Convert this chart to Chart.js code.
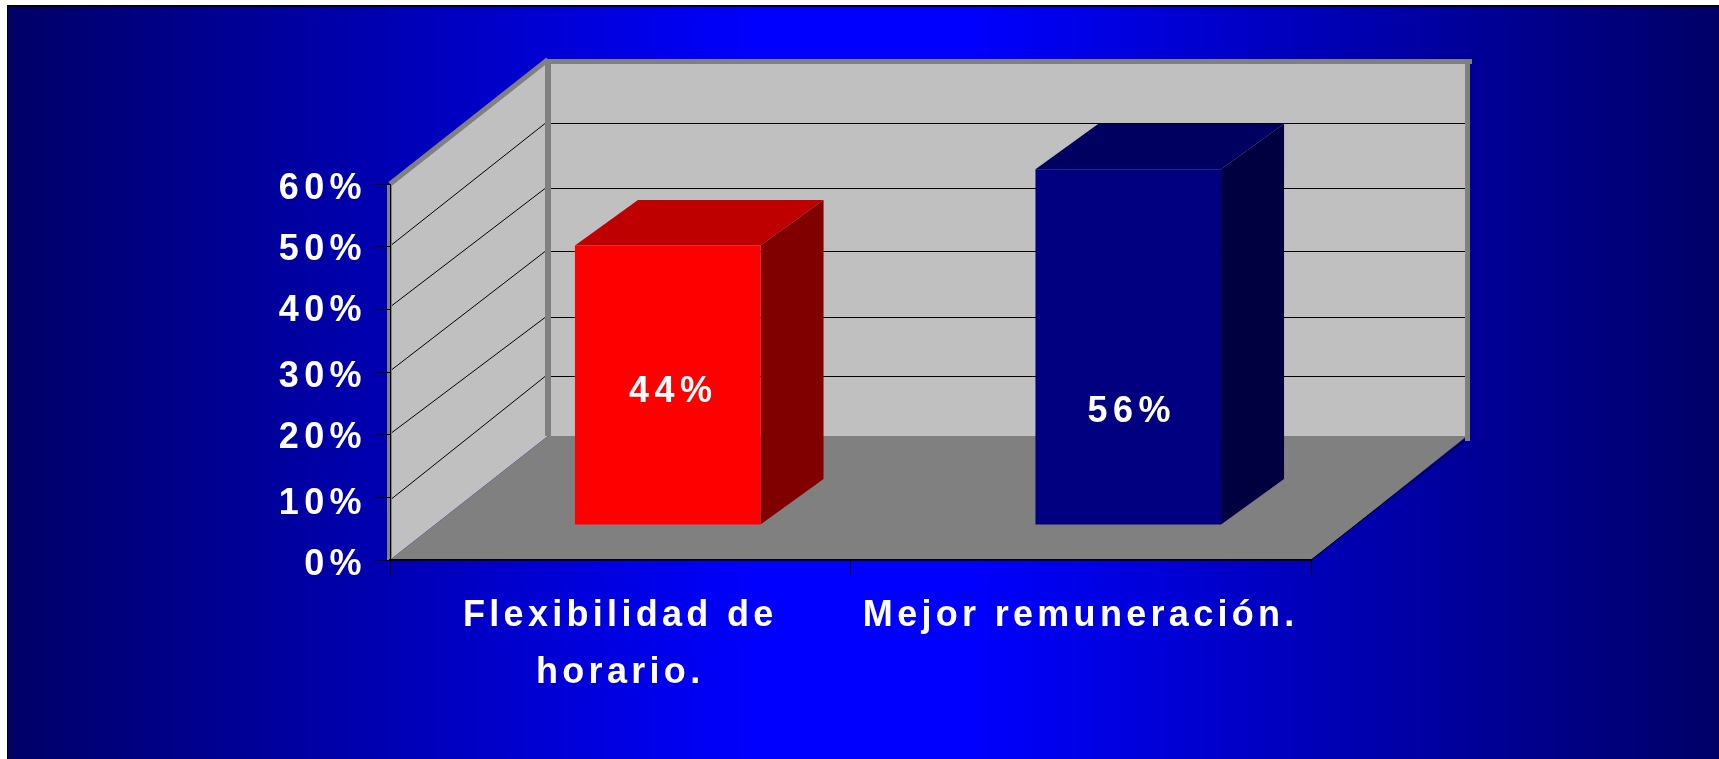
<!DOCTYPE html>
<html><head><meta charset="utf-8">
<style>html,body{margin:0;padding:0;background:#fff;overflow:hidden}canvas{display:block}</style>
<script src="https://cdn.jsdelivr.net/npm/chart.js@4"></script></head>
<body><canvas id="c" width="1719" height="759"></canvas>
<script>
const categories = [["Flexibilidad de","horario."],"Mejor remuneración."];
const values = [44,56];
const valueLabels = ["44%","56%"];
const faceColors = ["#FF0000","#000080"];
const topColors = ["#BF0000","#000060"];
const sideColors = ["#800000","#000040"];
const labelHeightFractions = [0.474,0.315];
const labelShiftX = [5.5,3.5];

const FONT = 'bold 36px "Liberation Sans"';
const SPACING = '5.4px';
const X_SPACING = '4.3px';
const depth = {x:158,y:-124};      // floor depth
const barPlane = {x:47.5,y:-35};   // bar's front face position in depth
const barDepth = {x:63,y:-45.5};
const barStretch = 1.014;
// small pixel nudges: the reference's 3D axis is slightly uneven (index = tick)
const tickLabelNudge = [5,7,3,5,2,3,5.5];
const frontLineNudge = [0,1,-3,-3,-4,-3,0];
const backLineNudge  = [0,3,6,3,3,0,0];

function poly(ctx,pts,fill){ctx.beginPath();pts.forEach((p,i)=>i?ctx.lineTo(p[0],p[1]):ctx.moveTo(p[0],p[1]));ctx.closePath();ctx.fillStyle=fill;ctx.fill();}
function seg(ctx,a,b,color,w){ctx.beginPath();ctx.moveTo(a[0],a[1]);ctx.lineTo(b[0],b[1]);ctx.strokeStyle=color;ctx.lineWidth=w;ctx.stroke();}

const scene = {
  id:'scene',
  beforeDraw(chart){
    const ctx=chart.ctx, a=chart.chartArea, W=chart.width, H=chart.height, ys=chart.scales.y, xs=chart.scales.x;
    ctx.save();
    ctx.fillStyle='#fff';ctx.fillRect(0,0,W,H);
    const g=ctx.createLinearGradient(7,0,W,0);
    g.addColorStop(0,'#000066');g.addColorStop(0.44,'#0000FF');g.addColorStop(0.56,'#0000FF');g.addColorStop(1,'#000066');
    ctx.fillStyle=g;ctx.fillRect(7,6,W-7,H-6);
    ctx.fillStyle='#000';ctx.fillRect(7,5,W-7,2);ctx.fillRect(7,5,1,H-5);
    const L=a.left,R=a.right,T=a.top,B=a.bottom,dx=depth.x,dy=depth.y;
    const backL=L+dx, backR=R+dx-2, backT=T+dy, backB=B+dy;
    // back wall, side wall, floor
    ctx.fillStyle='#C0C0C0';ctx.fillRect(backL,backT,backR-backL,backB-backT);
    poly(ctx,[[L,T],[backL,backT],[backL,backB],[L,B]],'#C0C0C0');
    poly(ctx,[[L,B],[R,B],[backR,backB],[backL,backB]],'#808080');
    // wall gridlines
    ys.ticks.forEach((t,i)=>{
      if(t.value===0||t.value===60)return;
      const y=Math.round(ys.getPixelForValue(t.value));
      const yf=y+.5+frontLineNudge[i], yb=y+.5+dy+backLineNudge[i];
      seg(ctx,[L+2,yf],[backL-3,yb],'#000',1);
      seg(ctx,[backL+3,yb],[backR-2,yb],'#000',1);
    });
    // grey wall borders
    seg(ctx,[L,T],[backL,backT-.5],'#808080',5);
    ctx.fillStyle='#808080';
    ctx.fillRect(backL-3,backT-1,backR-backL+8,5);
    ctx.fillRect(backL-3,backT-1,6,backB-backT+1);
    ctx.fillRect(backR-2,backT-1,5,backB-backT+6);
    ctx.fillRect(L-3,T,5,B-T);
    // floor front-right edge
    seg(ctx,[R,B],[backR-2,backB+4],'#000',1);
    ctx.restore();
    ctx.letterSpacing=SPACING;
    // tick label nudges and the x axis' own letter spacing
    if(!chart.$nudged){
      chart.$nudged=true;
      ys.getLabelItems(a).forEach((it,i)=>{it.options.translation[1]+=tickLabelNudge[i]||0;});
      const orig=xs.drawLabels;
      xs.drawLabels=function(area){ctx.letterSpacing=X_SPACING;orig.call(xs,area);ctx.letterSpacing=SPACING;};
    }
  },
  beforeDatasetsDraw(chart){
    const ctx=chart.ctx, meta=chart.getDatasetMeta(0);
    ctx.save();
    meta.data.forEach((bar,i)=>{
      const l=bar.x-bar.width/2+barPlane.x, r=bar.x+bar.width/2+barPlane.x;
      const b=bar.base+barPlane.y, t=b-(bar.base-bar.y)*barStretch;
      const dx=barDepth.x,dy=barDepth.y;
      poly(ctx,[[l,t],[r,t],[r+dx,t+dy],[l+dx,t+dy]],topColors[i]);
      poly(ctx,[[r,t],[r+dx,t+dy],[r+dx,b+dy],[r,b]],sideColors[i]);
    });
    ctx.restore();
    ctx.save();
    const base=chart.scales.y.getPixelForValue(0);
    ctx.translate(barPlane.x,barPlane.y+base);ctx.scale(1,barStretch);ctx.translate(0,-base);
  },
  afterDatasetsDraw(chart){
    const ctx=chart.ctx, meta=chart.getDatasetMeta(0);
    ctx.restore();
    ctx.save();
    ctx.font=FONT;ctx.fillStyle='#fff';ctx.textAlign='center';ctx.textBaseline='middle';ctx.letterSpacing=SPACING;
    meta.data.forEach((bar,i)=>{
      const b=bar.base+barPlane.y, t=b-(bar.base-bar.y)*barStretch;
      ctx.fillText(valueLabels[i],bar.x+barPlane.x+labelShiftX[i],b-(b-t)*labelHeightFractions[i]);
    });
    ctx.restore();
  }
};

new Chart(document.getElementById('c'),{
  type:'bar',
  data:{labels:categories,datasets:[{data:values,backgroundColor:faceColors,borderWidth:0,barPercentage:0.403,categoryPercentage:1}]},
  options:{
    responsive:false,animation:false,devicePixelRatio:1,
    layout:{padding:{left:0,right:408,top:184,bottom:0}},
    plugins:{legend:{display:false},title:{display:false},tooltip:{enabled:false}},
    scales:{
      x:{
        afterFit(s){s.height=199;},
        grid:{drawOnChartArea:false,drawTicks:true,tickLength:15,tickColor:'#000',offset:true},
        border:{color:'#000',width:2},
        ticks:{color:'#fff',padding:12,maxRotation:0,autoSkip:false,font:{family:'"Liberation Sans"',size:36,weight:'bold',lineHeight:1.6}}
      },
      y:{
        min:0,max:60,
        afterFit(s){s.width=390;},
        grid:{drawOnChartArea:false,drawTicks:true,tickLength:15,tickColor:'#000'},
        border:{color:'#000',width:1},
        ticks:{color:'#fff',stepSize:10,padding:8,callback:v=>v+'%',font:{family:'"Liberation Sans"',size:36,weight:'bold'}}
      }
    }
  },
  plugins:[scene]
});
</script></body></html>
